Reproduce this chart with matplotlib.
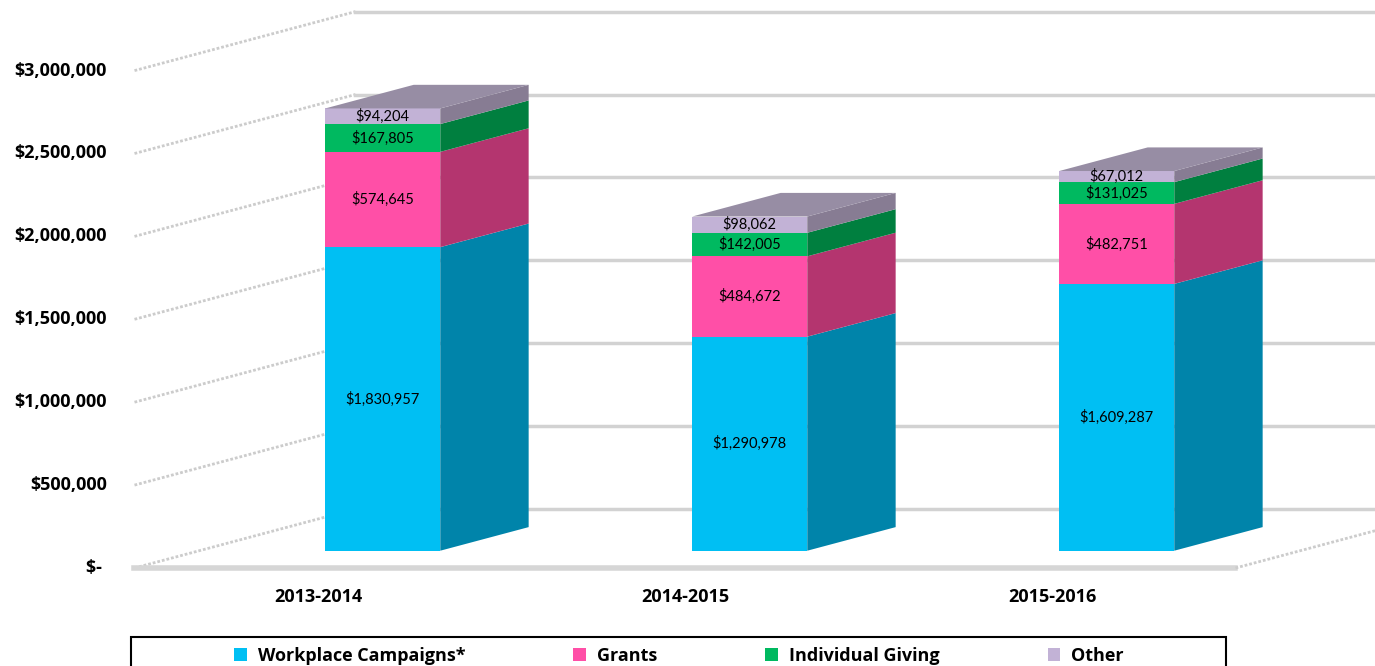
import matplotlib
matplotlib.use("Agg")
import matplotlib.pyplot as plt
from matplotlib.patches import Polygon, Patch, Rectangle

# データ
years = ["2013-2014", "2014-2015", "2015-2016"]
series = ["Workplace Campaigns*", "Grants", "Individual Giving", "Other"]
workplace = [1830957, 1290978, 1609287]
grants = [574645, 484672, 482751]
individual = [167805, 142005, 131025]
other = [94204, 98062, 67012]
yticks = [0, 500000, 1000000, 1500000, 2000000, 2500000, 3000000]
ytick_labels = ["$- ", "$500,000", "$1,000,000", "$1,500,000",
                "$2,000,000", "$2,500,000", "$3,000,000"]

# 色 (正面, 側面)
front_colors = ["#00BFF3", "#FF4FA7", "#00B960", "#C2B2D6"]
side_colors = ["#0084AA", "#B4356F", "#007F3F", "#877C93"]
top_color = "#978DA4"

# 奥行きの設定 (カテゴリ単位, ドル単位)
DX = 221 / 367
DY = 59 / 165.8e-6
bar_w = 115 / 367
d0, d1 = 0.293, 0.693

fig = plt.figure(figsize=(13.75, 6.66), dpi=100)
ax = fig.add_axes([0, 0, 1, 1])
ax.set_xlim(-318 / 367, (1375 - 318) / 367)
ax.set_ylim(-98 / 165.8e-6, 568 / 165.8e-6)
ax.set_axis_off()

lab_font = ["Lato", "DejaVu Sans"]
bold_font = ["Open Sans", "DejaVu Sans"]

# 壁のグリッド線
x_left = -0.5
x_right = len(years) - 0.5
for v, lab in zip(yticks, ytick_labels):
    ax.plot([x_left, x_left + DX], [v, v + DY], color="#cccccc", lw=2.0,
            ls=(0, (1.0, 0.7)), zorder=1, solid_capstyle="butt")
    ax.plot([x_left + DX, ax.get_xlim()[1]], [v + DY, v + DY], color="#d2d2d2",
            lw=2.5, zorder=1)
    ax.annotate(lab, (x_left, v), xytext=(-20, 0), textcoords="offset points",
                ha="right", va="center", fontsize=13, fontweight="bold",
                family=bold_font)

# 床
ax.plot([x_left, x_right], [0, 0], color="#d6d6d6", lw=4, zorder=1)
ax.plot([x_right, x_right + DX], [0, DY], color="#cccccc", lw=2.0,
        ls=(0, (1.0, 0.7)), zorder=1)

# 積み上げ棒 (疑似3D)
data = [workplace, grants, individual, other]
for i in range(len(years)):
    bottom = 0
    xa = i - bar_w / 2
    xb = i + bar_w / 2
    for k, vals in enumerate(data):
        top = bottom + vals[i]
        front = [(xa + d0 * DX, bottom + d0 * DY), (xb + d0 * DX, bottom + d0 * DY),
                 (xb + d0 * DX, top + d0 * DY), (xa + d0 * DX, top + d0 * DY)]
        side = [(xb + d0 * DX, bottom + d0 * DY), (xb + d1 * DX, bottom + d1 * DY),
                (xb + d1 * DX, top + d1 * DY), (xb + d0 * DX, top + d0 * DY)]
        ax.add_patch(Polygon(front, closed=True, facecolor=front_colors[k],
                             edgecolor="none", zorder=3))
        ax.add_patch(Polygon(side, closed=True, facecolor=side_colors[k],
                             edgecolor="none", zorder=3))
        ax.text(i + d0 * DX, (bottom + top) / 2 + d0 * DY, "${:,}".format(vals[i]),
                ha="center", va="center", fontsize=10.5, family=lab_font, zorder=4)
        bottom = top
    roof = [(xa + d0 * DX, bottom + d0 * DY), (xb + d0 * DX, bottom + d0 * DY),
            (xb + d1 * DX, bottom + d1 * DY), (xa + d1 * DX, bottom + d1 * DY)]
    ax.add_patch(Polygon(roof, closed=True, facecolor=top_color,
                         edgecolor="none", zorder=3))
    ax.annotate(years[i], (i, 0), xytext=(0, -21), textcoords="offset points",
                ha="center", va="center", fontsize=13, fontweight="bold",
                family=bold_font)

# 凡例
handles = [Patch(facecolor=c, edgecolor="none") for c in front_colors]
fig.legend(handles, series, loc="center", bbox_to_anchor=(679 / 1375, 1 - 656 / 666),
           ncol=4, frameon=False, handlelength=0.7, handleheight=0.7,
           handletextpad=0.6, columnspacing=6.0,
           prop={"family": bold_font, "weight": "bold", "size": 13})
fig.add_artist(Rectangle((131 / 1375, -0.05), 1095 / 1375, 0.05 + 29 / 666,
                         transform=fig.transFigure, fill=False,
                         edgecolor="black", lw=1.5))

fig.savefig("out.png", dpi=100)
